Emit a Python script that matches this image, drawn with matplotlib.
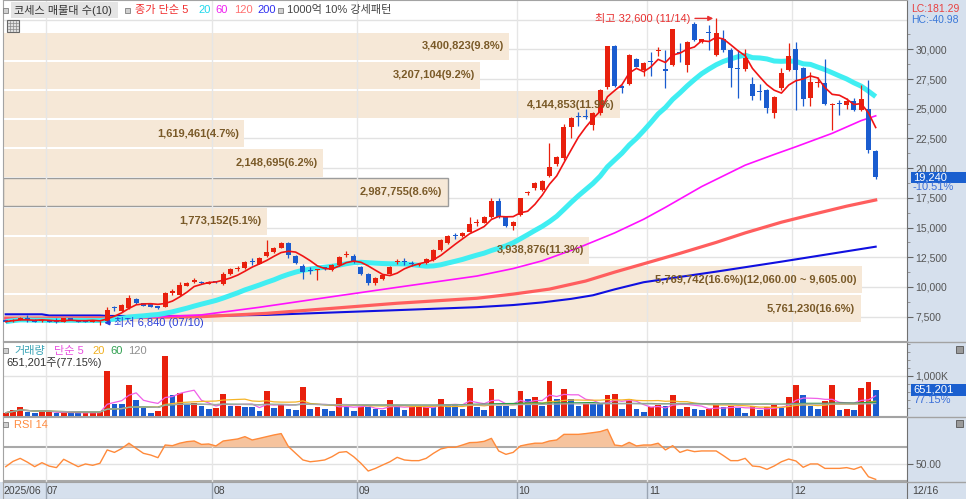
import numpy as np
import pandas as pd
import matplotlib
matplotlib.use('Agg')
import matplotlib.pyplot as plt
import matplotlib.transforms as mtransforms
from matplotlib.patches import Rectangle
from matplotlib.lines import Line2D

plt.rcParams['font.family'] = ['Liberation Sans', 'Noto Sans CJK KR', 'DejaVu Sans']


# ---------------- data ----------------

month_labels = ['2025/06', '07', '08', '09', '10', '11', '12']
month_start = [0, 6, 29, 49, 71, 89, 109]     # candle index of first day in month
last_date = '12/16'
hi_date = '11/14'
lo_date = '07/10'

opens = [7210, 7110, 7220, 7360, 7250, 7110, 7220, 7220, 7080, 7360,
         7220, 7200, 7080, 7100, 7100, 8290, 7980, 8205, 8990, 8625,
         8540, 8400, 8340, 9470, 9330, 10110, 10390, 10420, 10280, 10450,
         10220, 11070, 11520, 11620, 12180, 11930, 12610, 12970, 13300, 13670,
         12610, 11760, 11420, 11440, 11620, 11430, 11850, 12730, 12610, 11650,
         11090, 10310, 10670, 11090, 12080, 12180, 11980, 11880, 11990, 12270,
         13110, 13730, 14340, 14290, 14650, 15360, 15410, 15860, 17260, 15860,
         15130, 16050, 17880, 18300, 18160, 19340, 20350, 20830, 23490, 24330,
         24330, 23630, 24610, 26850, 30280, 26910, 27080, 29160, 28260, 29010,
         29830, 28370, 28680, 29710, 28680, 32150, 30640, 31400, 29520, 30840,
         29940, 28370, 28320, 27080, 26480, 26580, 24610, 26720, 28260, 30000,
         28400, 25870, 27140, 27140, 25350, 25450, 25310, 25680, 24890, 24950,
         21470]

highs = [7250, 7290, 7500, 7640, 7280, 7290, 7250, 7360, 7400, 7380,
         7250, 7230, 7250, 7150, 8300, 8440, 8560, 9300, 9050, 8680,
         8600, 8430, 9600, 9820, 10440, 10450, 10750, 10500, 10500, 10500,
         11290, 11600, 11800, 12200, 12400, 12500, 13950, 13400, 13800, 13800,
         12700, 11900, 11650, 11550, 11700, 11900, 12600, 13050, 12800, 11750,
         11150, 10800, 11050, 11750, 12350, 12400, 12200, 12050, 12400, 13200,
         14050, 14350, 14500, 14650, 15910, 15700, 16000, 17460, 17500, 15950,
         15550, 17500, 18050, 18850, 19000, 22090, 21000, 23700, 24300, 24700,
         25000, 24700, 26700, 30300, 30350, 27000, 29600, 29250, 28950, 29800,
         30200, 29940, 31700, 30500, 30700, 32300, 30900, 32040, 32600, 31600,
         30100, 29940, 30000, 27700, 27100, 26700, 26100, 28400, 30560, 30640,
         28500, 28100, 27700, 29160, 25500, 25700, 25900, 25900, 27000, 27420,
         21500]

lows = [7060, 7080, 7200, 7050, 7060, 7080, 7050, 6950, 7050, 7180,
        7050, 7050, 7050, 6840, 7000, 8000, 7900, 8150, 8600, 8400,
        8280, 8150, 8300, 9300, 9250, 10050, 10300, 10250, 10250, 10300,
        10200, 11000, 11350, 11550, 11850, 11900, 12550, 12900, 13250, 12410,
        11950, 10650, 11100, 10590, 11400, 11350, 11800, 12500, 12050, 11000,
        10170, 10200, 10600, 11050, 11900, 11850, 11800, 11800, 11950, 12200,
        13050, 13650, 14050, 14200, 14600, 15100, 15350, 15800, 15800, 15050,
        14790, 15950, 17750, 18200, 18100, 19250, 20200, 20700, 22510, 23550,
        24100, 23250, 24500, 26700, 26850, 26300, 27000, 28500, 27750, 27750,
        29450, 26720, 28600, 28900, 28110, 30700, 30500, 29940, 29400, 29800,
        26850, 25870, 28200, 25700, 25700, 24610, 24190, 26600, 28150, 24890,
        25200, 25200, 26800, 25300, 23210, 24500, 25000, 24800, 24800, 21300,
        19100]

closes = [7080, 7250, 7360, 7220, 7080, 7250, 7080, 7080, 7360, 7220,
          7080, 7080, 7220, 7130, 8050, 8220, 8480, 9100, 8650, 8420,
          8310, 8205, 9470, 9660, 10170, 10310, 10590, 10360, 10440, 10400,
          11070, 11510, 11570, 12080, 12130, 12410, 12970, 13300, 13670, 12690,
          12040, 11280, 11370, 11490, 11570, 11850, 12550, 12780, 12130, 11090,
          10310, 10730, 11010, 11650, 12130, 12130, 11930, 11930, 12330, 13110,
          13950, 14290, 14290, 14570, 15300, 15410, 15860, 17260, 15860, 15130,
          15490, 17460, 17930, 18770, 18940, 20120, 20960, 23490, 24190, 24280,
          24280, 24610, 26580, 30280, 26910, 26720, 29520, 28540, 28870, 28960,
          29880, 28200, 31680, 29660, 30640, 30800, 30840, 31350, 31400, 29940,
          28400, 28320, 29240, 26070, 26430, 25040, 26010, 28030, 29440, 28260,
          25790, 27270, 27190, 25400, 25400, 25400, 25680, 24890, 25790, 21500,
          19240]

# volume in thousand shares
vol_k = [83, 142, 225, 100, 83, 100, 105, 75, 83, 80,
         78, 85, 88, 92, 1125, 308, 300, 767, 392, 200,
         83, 133, 1500, 517, 583, 308, 315, 242, 183, 190,
         558, 242, 250, 225, 215, 117, 617, 200, 267, 167,
         160, 725, 167, 225, 167, 125, 458, 225, 125, 230,
         220, 167, 160, 392, 242, 142, 225, 232, 240, 225,
         417, 292, 285, 183, 708, 225, 142, 667, 250, 245,
         183, 617, 417, 467, 250, 867, 433, 683, 417, 250,
         308, 300, 290, 517, 542, 183, 433, 167, 100, 225,
         267, 250, 517, 183, 225, 167, 142, 183, 267, 225,
         250, 200, 83, 250, 142, 225, 267, 200, 475, 783,
         517, 250, 167, 367, 783, 142, 183, 142, 700, 844.07,
         651.201]

rsi = [47.2, 53.4, 57.0, 52.5, 47.2, 51.9, 47.9, 46.1, 55.9, 51.5,
       47.2, 50.4, 48.8, 51.2, 66.9, 64.0, 68.5, 74.8, 68.7, 62.9,
       60.9, 57.8, 72.7, 71.9, 74.8, 76.6, 77.4, 73.4, 73.9, 71.6,
       77.4, 78.6, 79.8, 82.5, 78.6, 80.5, 82.5, 84.5, 86.1, 70.8,
       62.9, 55.1, 53.0, 53.9, 55.1, 58.9, 64.0, 64.9, 58.9, 51.2,
       42.1, 45.2, 49.2, 53.0, 58.2, 55.1, 54.3, 54.3, 57.0, 62.9,
       68.0, 70.0, 70.0, 72.7, 75.5, 75.8, 77.0, 80.5, 65.7, 61.7,
       64.0, 71.6, 73.4, 74.8, 74.8, 77.4, 78.6, 85.2, 85.2, 85.2,
       86.1, 87.2, 88.4, 91.1, 72.7, 71.6, 75.8, 71.6, 72.7, 72.7,
       74.8, 66.9, 71.9, 64.0, 66.9, 64.9, 65.7, 65.7, 65.7, 60.2,
       54.3, 54.3, 57.0, 48.0, 47.2, 44.1, 48.0, 53.0, 56.2, 53.9,
       46.5, 50.4, 50.4, 45.2, 45.2, 45.2, 46.1, 44.1, 47.2, 35.4,
       32.3]

# long moving averages (candle index, price)
ma60_idx = [0, 14, 27, 35, 45, 54, 65, 70, 74, 79, 84, 88, 91, 96, 102, 106,
            109, 114, 118, 120]
ma60_val = [7250, 7300, 7650, 8290, 9180, 9970, 10920, 11550, 12200, 13300,
            14550, 15700, 16700, 18450, 20250, 21150, 21800, 22930, 24000, 24400]
ma120_idx = [0, 14, 27, 36, 45, 54, 65, 70, 75, 80, 84, 88, 93, 98, 102, 107,
             111, 116, 120]
ma120_val = [7380, 7400, 7500, 7780, 8200, 8630, 9050, 9400, 9820, 10500,
             11250, 11950, 12830, 13750, 14550, 15450, 16060, 16800, 17320]
ma200_idx = [0, 5, 6, 13, 14, 27, 36, 45, 54, 65, 70, 74, 78, 81, 84, 88,
             98, 107, 120]
ma200_val = [7700, 7700, 7600, 7600, 7560, 7560, 7650, 7850, 8050, 8300,
             8480, 8700, 9000, 9300, 9800, 10400, 11290, 12130, 13390]

# price-volume bands (bottom to top)
band_edges = [7150, 9605, 12060, 14515, 16970, 19425, 21880, 24335, 26790, 29245, 31700]
band_vol = [5761230, 5769742, 3938876, 1773152, 2987755, 2148695, 1619461,
            4144853, 3207104, 3400823]
band_pct = [16.6, 16.6, 11.3, 5.1, 8.6, 6.2, 4.7, 11.9, 9.2, 9.8]


# ---------------- colours / layout ----------------
RED = '#e8200d'
BLUE = '#1a5ccf'
AXIS_BG = '#d6e0ed'
GRID = '#e2e2e2'
BAND = '#f6e8d7'
BAND_TXT = '#7a5a28'

W, H = 966, 499


def px_rect(x0, y0, x1, y1):
    '''pixel box of the screenshot -> figure fraction rect'''
    return [x0 / W, 1 - y1 / H, (x1 - x0) / W, (y1 - y0) / H]


def fxy(xp, yp):
    return xp / W, 1 - yp / H


x = np.arange(len(closes))
o = np.array(opens)
h = np.array(highs)
l = np.array(lows)
c = np.array(closes)
volume = np.array(vol_k) * 1000
rsi = np.array(rsi)
XL = (-0.37, 124.32)

fig = plt.figure(figsize=(W / 100, H / 100), dpi=100)
fig.patch.set_facecolor('white')

# right scale column and date strip
fig.add_artist(Rectangle(fxy(907, 499), (W - 907) / W, 1, transform=fig.transFigure,
                         facecolor=AXIS_BG, edgecolor='none', zorder=-5))
fig.add_artist(Rectangle((0, 0), 1, 17 / H, transform=fig.transFigure,
                         facecolor=AXIS_BG, edgecolor='none', zorder=-5))

ax = fig.add_axes(px_rect(3, 0, 907, 341))
axv = fig.add_axes(px_rect(3, 342, 907, 416))
axr = fig.add_axes(px_rect(3, 417, 907, 482))
axd = fig.add_axes(px_rect(3, 482, 907, 499))

for a in (ax, axv, axr, axd):
    a.set_xlim(XL)
    a.tick_params(axis='x', bottom=False, labelbottom=False)
    for s in a.spines.values():
        s.set_color('#a3a3a3')
    a.spines['right'].set_color('#707070')

for a in (ax, axv, axr):
    a.yaxis.set_ticks_position('right')
    a.tick_params(axis='y', which='major', direction='out', length=4, width=0.8,
                  color='#666666', labelsize=7.5, labelcolor='#555555', pad=2)
    a.tick_params(axis='y', which='minor', direction='out', length=2, width=0.6,
                  color='#888888')
    for m in month_start[1:]:
        a.axvline(m - 0.5, color='#e6e6e6', lw=1, zorder=0.6)


### main price panel
ax.set_ylim(5453, 34149)
ax.set_yticks(range(7500, 30001, 2500))
ax.set_yticklabels([f'{v:,}' for v in range(7500, 30001, 2500)])
ax.set_yticks(np.arange(8750, 33000, 2500), minor=True)
for p in range(7500, 32501, 2500):
    ax.axhline(p, color=GRID, lw=1, zorder=0.3)

# price volume bands
band_tr = mtransforms.blended_transform_factory(ax.transAxes, ax.transData)
for k in range(len(band_vol)):
    lo, hi = band_edges[k], band_edges[k + 1]
    w = band_vol[k] / max(band_vol) * 0.95
    current = lo <= closes[-1] < hi
    ax.add_patch(Rectangle((0, lo - 140), w, (hi - lo) - 155, transform=band_tr,
                           facecolor=BAND, edgecolor='#9c9c9c' if current else 'none',
                           lw=1, zorder=0.5))
    label = f'{band_vol[k]:,}({band_pct[k]}%)'
    if band_vol[k] == max(band_vol):
        label += f'({hi:,.2f} ~ {lo:,.2f})'
    ax.text(w - 0.006, (lo + hi) / 2 - 215, label, transform=band_tr, ha='right',
            va='center', fontsize=8, fontweight='bold', color=BAND_TXT, zorder=6)

# moving averages
ax.plot(ma200_idx, ma200_val, color='#1010e0', lw=1.5, zorder=2)
ax.plot(ma120_idx, ma120_val, color='#ff5e5e', lw=2.3, zorder=2.1)
ax.plot(ma60_idx, ma60_val, color='#ff10ff', lw=1.2, zorder=2.2)
ma20 = pd.Series(c).rolling(20, min_periods=1).mean()
ax.plot(x, ma20, color='#40eef2', lw=3.6, zorder=2.3, solid_capstyle='butt')

# candles
col = np.where(c >= o, RED, BLUE)
ax.vlines(x, l, h, color=col, lw=0.9, zorder=3)
ax.bar(x, np.maximum(np.abs(c - o), 80), 0.7, bottom=np.minimum(o, c),
       color=col, linewidth=0, zorder=4)

ma5 = pd.Series(c).rolling(5, min_periods=1).mean()
ax.plot(x, ma5, color='#f01414', lw=1.2, zorder=5)

# highest / lowest marks
i_hi = int(np.argmax(h))
ax.annotate(f'최고 {h[i_hi]:,} ({hi_date})', xy=(i_hi - 0.4, h[i_hi]), xytext=(i_hi - 3.5, h[i_hi]),
            ha='right', va='center', fontsize=8, color='#e83030', zorder=7,
            arrowprops=dict(arrowstyle='-|>', color='#e83030', lw=1, mutation_scale=7,
                            shrinkA=1, shrinkB=0))
i_lo = int(np.argmin(l))
ax.annotate(f'최저 {l[i_lo]:,} ({lo_date})', xy=(i_lo + 0.6, l[i_lo] + 150),
            xytext=(i_lo + 2.0, l[i_lo] + 150),
            ha='left', va='center', fontsize=8, color='#2a3fd8', zorder=7,
            arrowprops=dict(arrowstyle='-|>', color='#2a3fd8', lw=1, mutation_scale=7,
                            shrinkA=1, shrinkB=0))

# last price box on the scale
chg = (c[-1] / c[-2] - 1) * 100
ax.add_patch(Rectangle((1.0044, c[-1] - 460), 0.0608, 920, transform=band_tr,
                       facecolor='#1a5fcf', edgecolor='none', clip_on=False, zorder=8))
ax.text(1.0066, c[-1], f'{c[-1]:,}', transform=band_tr, ha='left', va='center',
        fontsize=8, color='white', zorder=9, clip_on=False)
ax.text(1.0066, c[-1] - 830, f'{chg:.2f}%', transform=band_tr, ha='left', va='center',
        fontsize=8, color='#3b6fd8', zorder=9, clip_on=False)


### volume panel
vol_col = [RED] + [RED if volume[i] > volume[i - 1] else BLUE for i in range(1, len(volume))]
axv.set_ylim(0, 1850000)
axv.set_yticks([1000000])
axv.set_yticklabels(['1,000K'])
axv.set_yticks(np.arange(200000, 1850000, 200000), minor=True)
axv.axhline(1000000, color=GRID, lw=1, zorder=0.3)
axv.bar(x, volume, 0.78, color=vol_col, linewidth=0, zorder=3)
vs = pd.Series(volume)
axv.plot(x, vs.rolling(5, min_periods=1).mean(), color='#f060e8', lw=0.9, zorder=4)
axv.plot(x, vs.rolling(20, min_periods=1).mean(), color='#f5b428', lw=0.9, zorder=4)
axv.plot(x, vs.rolling(60, min_periods=1).mean(), color='#2ea048', lw=0.9, zorder=4)
axv.plot(x, vs.rolling(120, min_periods=1).mean(), color='#a8a8a8', lw=0.9, zorder=4)

vtr = mtransforms.blended_transform_factory(axv.transAxes, axv.transData)
axv.add_patch(Rectangle((1.0044, volume[-1] - 140000), 0.0608, 280000, transform=vtr,
                        facecolor='#1a5fcf', edgecolor='none', clip_on=False, zorder=8))
axv.text(1.0066, volume[-1], f'{int(volume[-1]):,}', transform=vtr, ha='left', va='center',
         fontsize=8, color='white', zorder=9, clip_on=False)
axv.text(1.0066, volume[-1] - 260000, f'{volume[-1] / volume[-2] * 100:.2f}%', transform=vtr,
         ha='left', va='center', fontsize=8, color='#3b6fd8', zorder=9, clip_on=False)


### RSI panel
axr.set_ylim(29.2, 105.6)
axr.set_yticks([50])
axr.set_yticklabels(['50.00'])
axr.axhline(50, color=GRID, lw=1, zorder=0.3)
axr.axhline(70, color='#a9a9a9', lw=1.5, zorder=0.4)
axr.axhline(30, color='#a9a9a9', lw=1.5, zorder=0.4)
axr.fill_between(x, rsi, 70, where=rsi >= 70, interpolate=True, color='#f6c39d',
                 linewidth=0, zorder=1)
axr.plot(x, rsi, color='#ff8a3a', lw=1, zorder=2)


### date strip
axd.set_facecolor(AXIS_BG)
axd.set_ylim(0, 1)
axd.set_yticks([])
for m in month_start[1:]:
    axd.axvline(m - 0.5, color='#9aa5b3', lw=1)
for lab, m in zip(month_labels, month_start):
    xp = -0.3 if m == 0 else m - 0.3
    axd.text(xp, 0.45, lab, fontsize=7.5, color='#444444', va='center', ha='left')
fig.text(*fxy(912, 491), last_date, fontsize=7.5, color='#444444', va='center')


### legends and labels (pixel positions of the screenshot)
def square(xp, yp):
    fig.add_artist(Rectangle(fxy(xp, yp + 5), 5 / W, 5 / H, transform=fig.transFigure,
                             facecolor='#d0d0d0', edgecolor='#808080', lw=0.6, zorder=10))


square(3, 8)
fig.add_artist(Rectangle(fxy(11, 18), 107 / W, 16 / H, transform=fig.transFigure,
                         facecolor='#e4e4e4', edgecolor='none', zorder=9))
fig.text(*fxy(14, 10), '코세스 매물대 수(10)', fontsize=8, color='#333333', va='center', zorder=10)
square(125, 8)
fig.text(*fxy(135, 10), '종가 단순 5', fontsize=8, color='#f03030', va='center', zorder=10)
fig.text(*fxy(198, 10), '20', fontsize=8, color='#20d8ec', va='center', zorder=10)
fig.text(*fxy(215, 10), '60', fontsize=8, color='#f020f0', va='center', zorder=10)
fig.text(*fxy(234, 10), '120', fontsize=8, color='#ff7070', va='center', zorder=10)
fig.text(*fxy(257, 10), '200', fontsize=8, color='#3030f0', va='center', zorder=10)
square(278, 8)
fig.text(*fxy(287, 10), '1000억 10% 강세패턴', fontsize=8, color='#444444', va='center', zorder=10)

# small grid icon under the legend
fig.add_artist(Rectangle(fxy(7, 32), 12 / W, 12 / H, transform=fig.transFigure,
                         facecolor='#e0e0e0', edgecolor='#666666', lw=0.8, zorder=10))
for k in (1, 2, 3):
    fig.add_artist(Line2D([fxy(7 + 3 * k, 0)[0]] * 2, [fxy(0, 21)[1], fxy(0, 31)[1]],
                          transform=fig.transFigure, color='#888888', lw=0.5, zorder=11))
    fig.add_artist(Line2D([fxy(8, 0)[0], fxy(18, 0)[0]], [fxy(0, 20 + 3 * k)[1]] * 2,
                          transform=fig.transFigure, color='#888888', lw=0.5, zorder=11))

fig.text(*fxy(911, 9), 'LC:181.29', fontsize=7.5, color='#e84040', va='center')
fig.text(*fxy(911, 20), 'HC:-40.98', fontsize=7.5, color='#3a78d8', va='center')

# volume legend
square(3, 348)
fig.text(*fxy(14, 351), '거래량', fontsize=8, color='#3aa3b5', va='center')
fig.text(*fxy(54, 351), '단순 5', fontsize=8, color='#e850e0', va='center')
fig.text(*fxy(92, 351), '20', fontsize=8, color='#f0b020', va='center')
fig.text(*fxy(110, 351), '60', fontsize=8, color='#30a050', va='center')
fig.text(*fxy(128, 351), '120', fontsize=8, color='#909090', va='center')
fig.text(*fxy(6, 363), f'{int(volume[-1]):,}주({volume[-1] / volume[-2] * 100:.2f}%)',
         fontsize=8, color='#333333', va='center')

# RSI legend
square(3, 422)
fig.text(*fxy(14, 425), 'RSI 14', fontsize=8, color='#ff8c40', va='center')

# tiny panel icons on the scale column
for yp in (346, 420):
    fig.add_artist(Rectangle(fxy(956, yp + 7), 7 / W, 7 / H, transform=fig.transFigure,
                             facecolor='#9a9a9a', edgecolor='#555555', lw=0.6, zorder=10))

# panel separators across the scale column
for yp in (341.5, 416.5, 482):
    fig.add_artist(Line2D([fxy(907, 0)[0], 1], [fxy(0, yp)[1]] * 2, transform=fig.transFigure,
                          color='#a3a3a3', lw=1, zorder=10))

fig.savefig('out.png', dpi=100)
